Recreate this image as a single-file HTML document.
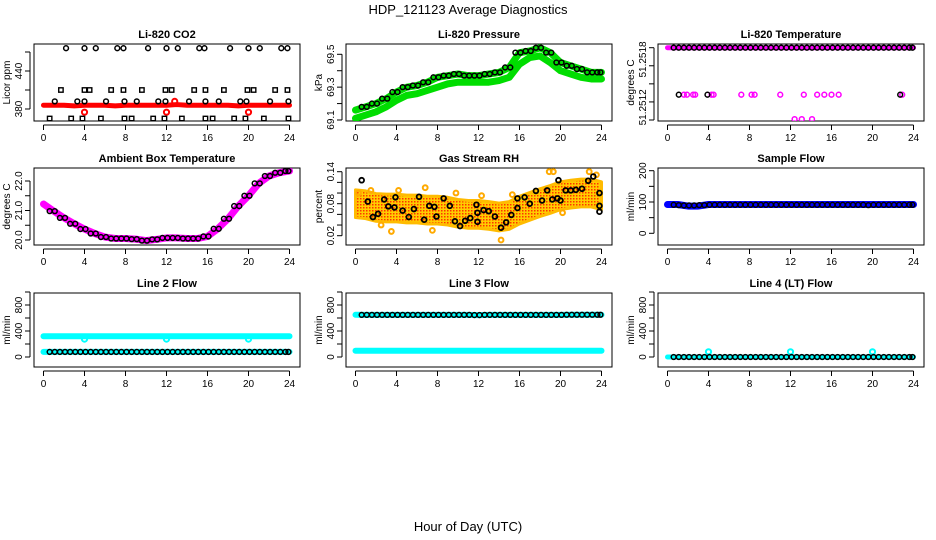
<!DOCTYPE html>
<html><head><meta charset="utf-8"><style>
html,body{margin:0;padding:0;background:#fff;}
svg{display:block;font-family:"Liberation Sans",sans-serif;}
</style></head><body>
<svg id="c" width="936" height="540" viewBox="0 0 936 540">
<text x="468" y="14" text-anchor="middle" font-size="13">HDP_121123  Average Diagnostics</text>
<text x="468" y="531" text-anchor="middle" font-size="13">Hour of Day (UTC)</text>
</svg>
<script>
// ---- data ----
const hourTicks = [0,4,8,12,16,20,24];
const hourly = [0,1,2,3,4,5,6,7,8,9,10,11,12,13,14,15,16,17,18,19,20,21,22,23,24];
const halfHours = [0.6,1.1,1.6,2.1,2.6,3.1,3.6,4.1,4.6,5.1,5.6,6.1,6.6,7.1,7.6,8.1,8.6,9.1,9.6,10.1,10.6,11.1,11.6,12.1,12.6,13.1,13.6,14.1,14.6,15.1,15.6,16.1,16.6,17.1,17.6,18.1,18.6,19.1,19.6,20.1,20.6,21.1,21.6,22.1,22.6,23.1,23.6,23.9];

// CO2
const co2Red = [386,386,386,385,386,386,386,385,386,386,386,386,386,387,386,386,386,386,386,385,386,386,386,386,386];
const co2RedOutT = [4,12,12.8,20];
const co2RedOutV = [375,375,392,375];
const co2TopT = [2.2,4,5.1,7.2,7.8,10.2,12,13.1,15.2,15.7,18.2,20,21.1,23.2,23.8];
const co2TopV = [476,476,476,476,476,476,476,476,476,476,476,476,476,476,476];
const co2SqT = [1.7,4,4.5,6.6,7.8,9.6,11.9,12.5,14.7,15.8,17.6,19.9,20.5,22.6,23.8];
const co2SqV = [410,410,410,410,410,410,410,410,410,410,410,410,410,410,410];
const co2MidT = [1.1,3.3,4,6.1,7.9,9.1,11.2,11.9,14.2,15.8,17.1,19.2,19.8,22.1,23.9];
const co2MidV = [392,392,392,392,392,392,392,392,392,392,392,392,392,392,392];
const co2LowT = [0.6,2.7,3.8,5.6,7.9,8.6,10.7,11.8,13.5,15.8,16.5,18.6,19.7,21.5,23.9];
const co2LowV = [365,365,365,365,365,365,365,365,365,365,365,365,365,365,365];

// Pressure
const presUpper = [69.16,69.18,69.20,69.23,69.27,69.30,69.31,69.33,69.36,69.37,69.38,69.37,69.37,69.38,69.39,69.42,69.51,69.52,69.54,69.51,69.45,69.43,69.41,69.39,69.39];
const presLower = [69.11,69.13,69.15,69.18,69.22,69.25,69.26,69.28,69.30,69.32,69.33,69.33,69.33,69.33,69.34,69.36,69.44,69.48,69.49,69.45,69.40,69.38,69.36,69.35,69.35];

// Li-820 temperature
const tempTopMag = [51.2518,51.2518,51.2518,51.2518,51.2518,51.2518,51.2518,51.2518,51.2518,51.2518,51.2518,51.2518,51.2518,51.2518,51.2518,51.2518,51.2518,51.2518,51.2518,51.2518,51.2518,51.2518,51.2518,51.2518,51.2518];
const tempMidMagT = [1.6,1.9,2.5,2.7,4.3,4.5,7.2,8.2,8.5,11,13.3,14.6,15.3,16,16.7,22.9];
const tempMidBlkT = [1.1,3.9,22.7];
const tempMidV = 51.25128;
const tempLowMagT = [12.4,13.1,14.1];
const tempLowV = 51.25101;

// Ambient box temperature
const ambient = [21.22,20.98,20.75,20.55,20.37,20.22,20.10,20.05,20.05,20.03,19.98,20.02,20.07,20.07,20.05,20.05,20.12,20.38,20.72,21.15,21.50,21.92,22.17,22.28,22.34];

// Gas stream RH
const rhMean = [0.080,0.078,0.073,0.072,0.072,0.070,0.070,0.068,0.068,0.066,0.062,0.060,0.060,0.058,0.055,0.058,0.068,0.075,0.082,0.088,0.095,0.098,0.100,0.100,0.095];
const rhT = [0.6,1.2,1.7,2.2,2.8,3.2,3.8,3.9,4.6,5.2,5.7,6.2,6.7,7.2,7.7,7.9,8.6,9.2,9.7,10.2,10.7,11.2,11.8,11.9,11.9,12.5,13,13.6,14.2,14.7,15.2,15.8,15.8,16.5,17,17.6,18.2,18.7,19.2,19.7,19.8,20,20.5,21,21.5,22.1,22.7,23.2,23.8,23.8,23.8];
const rhV = [0.124,0.084,0.055,0.061,0.088,0.075,0.073,0.092,0.067,0.055,0.070,0.093,0.050,0.076,0.074,0.056,0.090,0.076,0.047,0.038,0.048,0.053,0.078,0.063,0.046,0.068,0.066,0.056,0.035,0.045,0.059,0.090,0.072,0.092,0.080,0.104,0.086,0.105,0.088,0.090,0.124,0.086,0.105,0.105,0.106,0.108,0.123,0.131,0.100,0.076,0.065];
const rhOutT = [0.3,1.5,2.5,3.5,4.2,6.8,7.5,9.8,12.3,14.2,15.3,18.9,19.3,20.2,22.8,23.5];
const rhOutV = [0.100,0.105,0.040,0.028,0.105,0.110,0.030,0.100,0.095,0.012,0.097,0.140,0.140,0.063,0.140,0.134];

// Sample flow
const sampleBlue = [92,92,87,87,92,92,92,92,92,92,92,92,92,92,92,92,92,92,92,92,92,92,92,92,92];
const sampleBlack = [91,90,89,89,89,90,90,91,91,91,91,91,91,91,91,91,91,91,91,91,91,91,91,91,91,91,91,91,91,91,91,91,91,91,91,91,91,91,90,91,91,91,91,91,91,91,91,91];

// Line 2 flow
const line2Upper = [320,320,320,320,320,320,320,320,320,320,320,320,320,320,320,320,320,320,320,320,320,320,320,320,320];
const line2DipT = [4,12,20];
const line2DipV = [275,275,275];
const line2Lower = [78,78,78,78,78,78,78,78,78,78,78,78,78,78,78,78,78,78,78,78,78,78,78,78,78];

// Line 3 flow
const line3Upper = [650,648,648,648,648,648,648,648,648,648,648,648,645,648,648,648,648,648,648,648,648,650,650,650,650];
const line3Lower = [97,97,97,97,97,97,97,97,97,97,97,97,97,97,97,97,97,97,97,97,97,97,97,97,97];

// Line 4 flow
const line4Base = [0,0,0,0,0,0,0,0,0,0,0,0,0,0,0,0,0,0,0,0,0,0,0,0,0];
const line4BlipT = [4,12,20];
const line4BlipV = [80,80,80];

// ---- drawing ----
const svg = document.getElementById('c');
const NS = 'http://www.w3.org/2000/svg';
function mk(tag, attrs, parent){
  const e = document.createElementNS(NS, tag);
  for (const k in attrs) e.setAttribute(k, attrs[k]);
  (parent||svg).appendChild(e);
  return e;
}
const colLeft = [34,346,658], colW = 266;
const rowTop = [44,168,293], rowH = [77,77,74];

function makePanel(col,row,title,yTitle,ref,ticks,labels,name){
  const L = colLeft[col], T = rowTop[row], W = colW, H = rowH[row];
  const g = mk('g',{});
  
  
  const x = h => L + 9.5 + h*(246/24);
  const y = v => ref[1] + (v-ref[0])*(ref[3]-ref[1])/(ref[2]-ref[0]);
  const box = mk('rect',{x:L,y:T,width:W,height:H,fill:'none',stroke:'#000','stroke-width':1},g);
  
  
  const t = mk('text',{x:L+W/2,y:T-6,'text-anchor':'middle','font-size':11,'font-weight':'bold'},g);
  t.textContent = title;
  
  
  const xa = mk('g',{},g);
  
  
  mk('line',{x1:x(0),x2:x(24),y1:T+H+4,y2:T+H+4,stroke:'#000'},xa);
  hourTicks.forEach(h=>{
    mk('line',{x1:x(h),x2:x(h),y1:T+H+4,y2:T+H+9,stroke:'#000'},xa);
    const tl = mk('text',{x:x(h),y:T+H+20,'text-anchor':'middle','font-size':10},xa);
    tl.textContent = h;
    
    
  });
  const ya = mk('g',{},g);
  
  
  mk('line',{x1:L-4,x2:L-4,y1:y(ticks[0]),y2:y(ticks[ticks.length-1]),stroke:'#000'},ya);
  ticks.forEach(v=>mk('line',{x1:L-9,x2:L-4,y1:y(v),y2:y(v),stroke:'#000'},ya));
  labels.forEach(lb=>{
    const yy = y(lb[0]);
    const tl = mk('text',{x:0,y:0,'text-anchor':'middle','font-size':10,transform:`translate(${L-12},${yy}) rotate(-90)`},ya);
    tl.textContent = lb[1];
    
    
  });
  const yt = mk('text',{x:0,y:0,'text-anchor':'middle','font-size':10,transform:`translate(${L-24},${T+H/2}) rotate(-90)`},g);
  yt.textContent = yTitle;
  
  
  const clip = 'clip'+col+row;
  const cp = mk('clipPath',{id:clip},g);
  mk('rect',{x:L,y:T,width:W,height:H},cp);
  const d = mk('g',{'clip-path':`url(#${clip})`},g);
  
  
  return {x,y,g:d};
}
function band(p, ts, vs, color, w, nm){
  const pts = ts.map((t,i)=>p.x(t)+','+p.y(vs[i])).join(' ');
  const e = mk('polyline',{points:pts,fill:'none',stroke:color,'stroke-width':w,'stroke-linecap':'round','stroke-linejoin':'round'},p.g);
  
  
}
function pts(p, ts, vs, color, nm, r, sw){
  ts.forEach((t,i)=>{
    const v = Array.isArray(vs) ? vs[i] : vs;
    const e = mk('circle',{cx:p.x(t),cy:p.y(v),r:r||2.4,fill:'none',stroke:color,'stroke-width':sw||1.5},p.g);
    
    
  });
}
function sq(p, ts, vs, color, nm){
  ts.forEach((t,i)=>{
    const e = mk('rect',{x:p.x(t)-2.2,y:p.y(vs[i])-2.2,width:4.4,height:4.4,fill:'none',stroke:color,'stroke-width':1.4},p.g);
    
    
  });
}

let p = makePanel(0,0,'Li-820 CO2','Licor ppm',[380,109,440,71],[380,410,440,470],[[380,'380'],[440,'440']],'co2');
band(p,hourly,co2Red,'#ff0000',5,'co2-red-series');
pts(p,co2RedOutT,co2RedOutV,'#ff0000','co2-red-point',2.6,2);
pts(p,co2TopT,co2TopV,'#000','co2-point');
sq(p,co2SqT,co2SqV,'#000','co2-point');
pts(p,co2MidT,co2MidV,'#000','co2-point');
sq(p,co2LowT,co2LowV,'#000','co2-point');

p = makePanel(1,0,'Li-820 Pressure','kPa',[69.5,54.3,69.1,120],[69.1,69.2,69.3,69.4,69.5],[[69.1,'69.1'],[69.3,'69.3'],[69.5,'69.5']],'pressure');
band(p,hourly,presLower,'#00dd00',7,'pressure-green-lower');
band(p,hourly,presUpper,'#00dd00',7,'pressure-green-upper');
pts(p,halfHours,halfHours.map(t=>presUpper[Math.round(t)]),'#000','pressure-point');

p = makePanel(2,0,'Li-820 Temperature','degrees C',[51.2518,47.7,51.2510,120],[51.2518,51.2516,51.2514,51.2512,51.2510],[[51.25167,'51.2518'],[51.25114,'51.2512']],'li820-temp');
band(p,hourly,tempTopMag,'#ff00ff',5,'temp-magenta-series');
pts(p,halfHours,halfHours.map(()=>51.2518),'#000','temp-point');
pts(p,tempMidMagT,tempMidV,'#ff00ff','temp-magenta-point');
pts(p,tempMidBlkT,tempMidV,'#000','temp-point');
pts(p,tempLowMagT,tempLowV,'#ff00ff','temp-magenta-point');

p = makePanel(0,1,'Ambient Box Temperature','degrees C',[22.0,181,20.0,240],[20.0,20.5,21.0,21.5,22.0],[[20.0,'20.0'],[21.0,'21.0'],[22.0,'22.0']],'ambient');
band(p,hourly,ambient,'#ff00ff',7,'ambient-magenta-series');
pts(p,halfHours,halfHours.map(t=>ambient[Math.round(t)]),'#000','ambient-point');

p = makePanel(1,1,'Gas Stream RH','percent',[0.14,171.7,0.02,235.7],[0.02,0.04,0.06,0.08,0.10,0.12,0.14],[[0.02,'0.02'],[0.08,'0.08'],[0.14,'0.14']],'rh');
const up = hourly.map((t,i)=>p.x(t)+','+p.y(rhMean[i]+0.026)).join(' ');
const dn = hourly.slice().reverse().map(t=>p.x(t)+','+p.y(rhMean[t]-0.026)).join(' ');
const defs = mk('defs',{});
const pat = mk('pattern',{id:'rhpat',width:3,height:3,patternUnits:'userSpaceOnUse'},defs);
mk('rect',{width:3,height:3,fill:'#ffcc00'},pat);
mk('rect',{width:1.5,height:1.5,fill:'#ff3300'},pat);
const poly = mk('polygon',{points:up+' '+dn,fill:'url(#rhpat)',stroke:'#ffbb00','stroke-width':3,'stroke-linejoin':'round'},p.g);


pts(p,rhOutT,rhOutV,'#ffaa00','rh-orange-point',2.4,2);
pts(p,rhT,rhV,'#000','rh-point',2.4,1.8);

p = makePanel(2,1,'Sample Flow','ml/min',[200,170.7,0,233.3],[0,50,100,150,200],[[0,'0'],[100,'100'],[200,'200']],'sample-flow');
band(p,hourly,sampleBlue,'#0000ff',7,'sample-blue-series');
pts(p,halfHours,sampleBlack,'#000','sample-point');

const flowTicks = [0,200,400,600,800,1000];
const flowLabels = [[0,'0'],[400,'400'],[800,'800']];
p = makePanel(0,2,'Line 2 Flow','ml/min',[0,357,400,331],flowTicks,flowLabels,'line2');
band(p,hourly,line2Upper,'#00ffff',6,'line2-cyan-upper');
pts(p,line2DipT,line2DipV,'#00ffff','line2-cyan-point',2.6,2);
band(p,hourly,line2Lower,'#00ffff',6,'line2-cyan-lower');
pts(p,halfHours,halfHours.map(t=>line2Lower[Math.round(t)]),'#000','line2-point');

p = makePanel(1,2,'Line 3 Flow','ml/min',[0,357,400,331],flowTicks,flowLabels,'line3');
band(p,hourly,line3Upper,'#00ffff',6,'line3-cyan-upper');
band(p,hourly,line3Lower,'#00ffff',6,'line3-cyan-lower');
pts(p,halfHours,halfHours.map(t=>line3Upper[Math.round(t)]),'#000','line3-point');

p = makePanel(2,2,'Line 4 (LT) Flow','ml/min',[0,357,400,331],flowTicks,flowLabels,'line4');
band(p,hourly,line4Base,'#00ffff',5,'line4-cyan-series');
pts(p,line4BlipT,line4BlipV,'#00ffff','line4-cyan-point',2.6,2);
pts(p,halfHours,halfHours.map(t=>line4Base[Math.round(t)]),'#000','line4-point');
</script>
</body></html>
